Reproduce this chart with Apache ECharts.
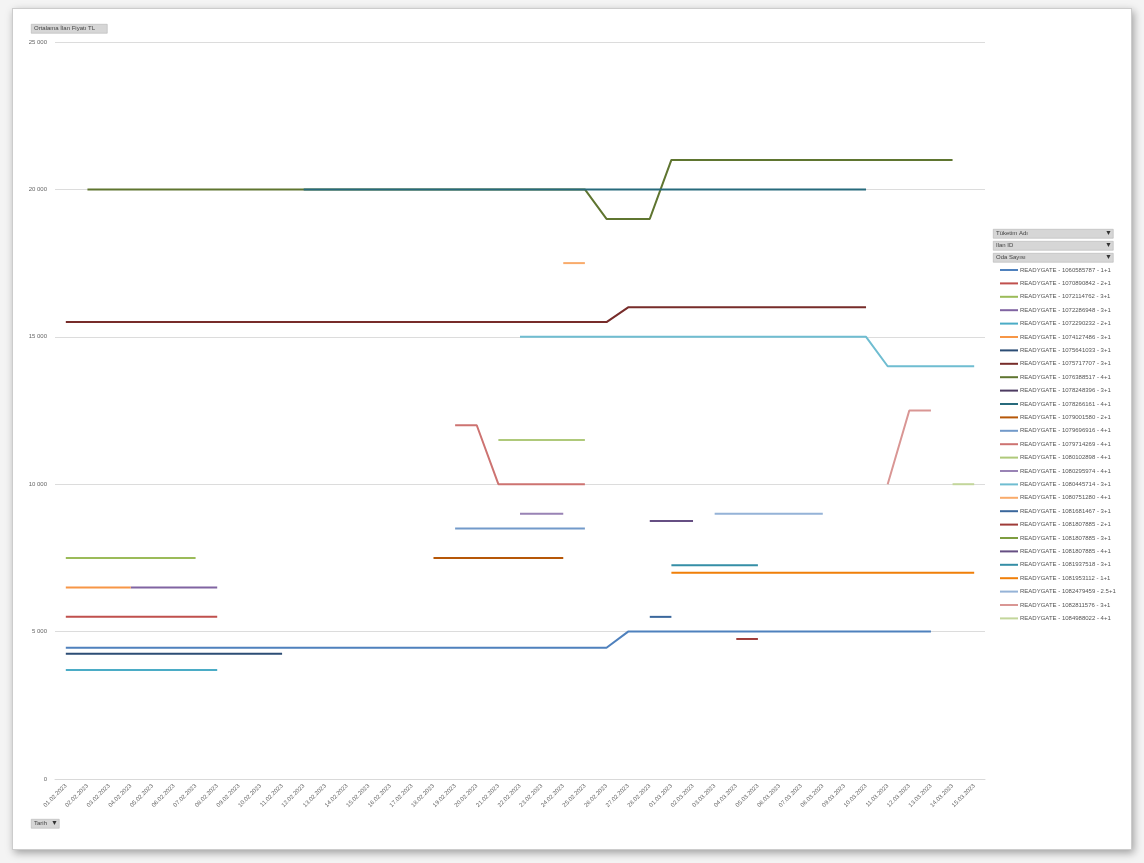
<!DOCTYPE html>
<html><head><meta charset="utf-8">
<script src="https://cdn.jsdelivr.net/npm/echarts@6/dist/echarts.min.js"></script>
<style>
html,body{margin:0;padding:0;background:#f4f4f4;}
#frame{position:absolute;left:12px;top:8px;width:1118px;height:840px;background:#fff;border:1px solid #ccc;box-shadow:2px 3px 8px rgba(0,0,0,0.35);}
#c{position:absolute;left:0;top:0;width:1144px;height:863px;}
</style></head><body>
<div id="frame"></div>
<div id="c"></div>
<script>
const categories = [];
for (let d = 1; d <= 28; d++) categories.push(String(d).padStart(2,'0') + '.02.2023');
for (let d = 1; d <= 15; d++) categories.push(String(d).padStart(2,'0') + '.03.2023');

const yTicks = [0, 5000, 10000, 15000, 20000, 25000];

// each series: list of [startIndex, endIndex, value] segments
const seriesNames = [
 'READYGATE - 1060585787 - 1+1','READYGATE - 1070890842 - 2+1','READYGATE - 1072114762 - 3+1',
 'READYGATE - 1072286948 - 3+1','READYGATE - 1072290232 - 2+1','READYGATE - 1074127486 - 3+1',
 'READYGATE - 1075641033 - 3+1','READYGATE - 1075717707 - 3+1','READYGATE - 1076388517 - 4+1',
 'READYGATE - 1078248396 - 3+1','READYGATE - 1078266161 - 4+1','READYGATE - 1079001580 - 2+1',
 'READYGATE - 1079696916 - 4+1','READYGATE - 1079714269 - 4+1','READYGATE - 1080102898 - 4+1',
 'READYGATE - 1080295974 - 4+1','READYGATE - 1080445714 - 3+1','READYGATE - 1080751280 - 4+1',
 'READYGATE - 1081681467 - 3+1','READYGATE - 1081807885 - 2+1','READYGATE - 1081807885 - 3+1',
 'READYGATE - 1081807885 - 4+1','READYGATE - 1081937518 - 3+1','READYGATE - 1081953112 - 1+1',
 'READYGATE - 1082479459 - 2.5+1','READYGATE - 1082811576 - 3+1','READYGATE - 1084988022 - 4+1'];
const seriesSegments = [
 [[0,25,4450],[26,40,5000]],
 [[0,7,5500]],
 [[0,6,7500]],
 [[3,7,6500]],
 [[0,7,3700]],
 [[0,3,6500]],
 [[0,10,4250]],
 [[0,25,15500],[26,37,16000]],
 [[1,24,20000],[25,27,19000],[28,41,21000]],
 [],
 [[11,37,20000]],
 [[17,23,7500]],
 [[18,24,8500]],
 [[18,19,12000],[20,24,10000]],
 [[20,24,11500]],
 [[21,23,9000]],
 [[21,37,15000],[38,42,14000]],
 [[23,24,17500]],
 [[27,28,5500]],
 [[31,32,4750]],
 [],
 [[27,29,8750]],
 [[28,32,7250]],
 [[28,42,7000]],
 [[30,35,9000]],
 [[38,38,10000],[39,40,12500]],
 [[41,42,10000]]];
const colors = ['#4F81BD','#C0504D','#9BBB59','#8064A2','#4BACC6','#F79646','#2C4D75','#772C2A',
 '#5F7530','#4D3B62','#276A7C','#B65708','#729ACA','#CD7371','#AFC97A','#9983B5','#6FBDD1',
 '#F9AB6B','#3A679C','#9F3B38','#7E9D40','#664F83','#358EA6','#F07F09','#95B3D7','#D99694','#C3D69B'];

function buildData(segs){
  const arr = categories.map(()=>null);
  segs.forEach(([a,b,v])=>{for(let i=a;i<=b;i++)arr[i]=v;});
  return arr;
}
const series = seriesNames.map((n,i)=>({
  name:n, type:'line', data:buildData(seriesSegments[i]), showSymbol:false, symbol:'none',
  connectNulls:true, lineStyle:{width:2, color:colors[i]}, itemStyle:{color:colors[i]}, silent:true
}));

const chart = echarts.init(document.getElementById('c'));
const btn = (x,y,w,t,arrow)=>[
  {type:'rect',left:x,top:y,shape:{width:w,height:9},style:{fill:'#d6d6d6',stroke:'#aaa',lineWidth:0.5}},
  {type:'text',left:x+3,top:y+1.5,style:{text:t,fontSize:6,fill:'#444',fontFamily:'Liberation Sans'}},
  {type:'text',left:x+w-8,top:y+1,style:{text:arrow,fontSize:7,fill:'#333'}}];
chart.setOption({
  animation:false,
  color:colors,
  grid:{left:55,right:159,top:42,bottom:84,containLabel:false},
  legend:{orient:'vertical',left:995,top:262,itemWidth:18,itemHeight:2,itemGap:7.4,
    icon:'rect',textStyle:{fontSize:6,color:'#555',fontFamily:'Liberation Sans',padding:[0,0,0,-3]}},
  xAxis:{type:'category',data:categories,boundaryGap:true,
    axisLine:{lineStyle:{color:'#d9d9d9'}},axisTick:{show:false},
    axisLabel:{rotate:45,fontSize:6,color:'#666',interval:0,margin:6,fontFamily:'Liberation Sans'}},
  yAxis:{type:'value',min:0,max:25000,interval:5000,
    axisLine:{show:false},axisTick:{show:false},
    splitLine:{lineStyle:{color:'#dcdcdc'}},
    axisLabel:{fontSize:6,color:'#666',margin:8,fontFamily:'Liberation Sans',
      formatter:v=>v===0?'0':(String(v).slice(0,-3)+' 000')}},
  graphic:[].concat(
    btn(993,229,120,'Tüketim Adı','▼'),btn(993,241,120,'Ilan ID','▼'),btn(993,253,120,'Oda Sayısı','▼'),
    btn(31,24,76,'Ortalama İlan Fiyatı TL',''),btn(31,819,28,'Tarih','▼')),
  series:series
});
</script></body></html>
